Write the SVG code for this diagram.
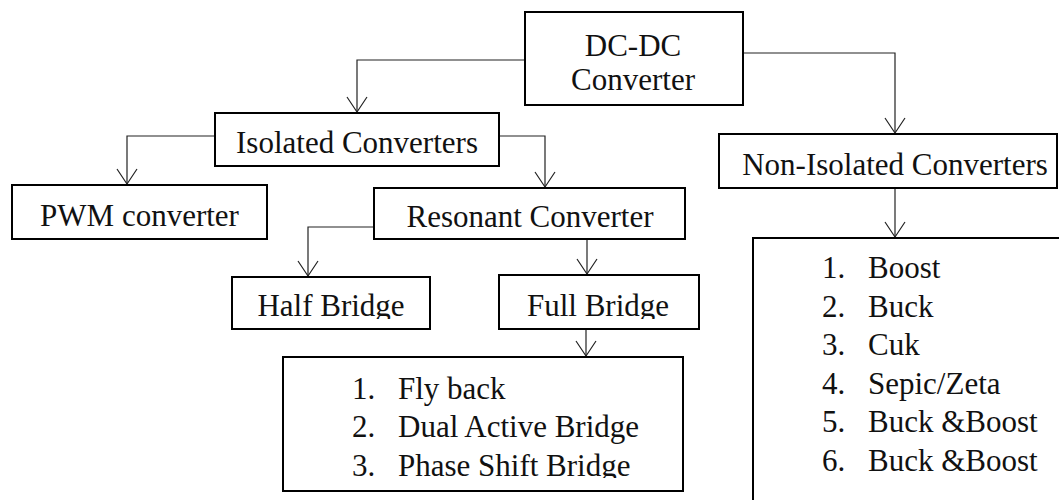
<svg xmlns="http://www.w3.org/2000/svg" width="1059" height="500" viewBox="0 0 1059 500">
<style>
.box{fill:#fff;stroke:#000;stroke-width:2}
.t{font-family:"Liberation Serif","Times New Roman",serif;font-size:31px;fill:#111}
.c{text-anchor:middle}
.conn{fill:none;stroke:#222;stroke-width:1.2}
</style>
<defs>
<marker id="arr" markerUnits="userSpaceOnUse" viewBox="-16 -11 18 22" markerWidth="18" markerHeight="22" refX="0" refY="0" orient="auto" overflow="visible">
<path d="M-15,-10 L0,0 L-15,10" fill="none" stroke="#222" stroke-width="1.2"/>
</marker>
<clipPath id="clipHalf"><rect x="232" y="277" width="198" height="42"/></clipPath>
<clipPath id="clipFull"><rect x="499" y="275" width="200" height="44"/></clipPath>
<clipPath id="clipList1"><rect x="283" y="357" width="400" height="121"/></clipPath>
</defs>
<rect width="1059" height="500" fill="#fff"/>
<g id="connectors">
<path class="conn" d="M525,60 H357 V112" marker-end="url(#arr)"/>
<path class="conn" d="M743,53 H895 V133" marker-end="url(#arr)"/>
<path class="conn" d="M215,136 H127 V184" marker-end="url(#arr)"/>
<path class="conn" d="M499,136 H545 V187" marker-end="url(#arr)"/>
<path class="conn" d="M374,227 H308 V276" marker-end="url(#arr)"/>
<path class="conn" d="M587,239 V274" marker-end="url(#arr)"/>
<path class="conn" d="M586,329 V356" marker-end="url(#arr)"/>
<path class="conn" d="M895,188 V237" marker-end="url(#arr)"/>
</g>
<g id="dcdc">
<rect class="box" x="525" y="12" width="218" height="93"/>
<text class="t c" x="633" y="56">DC-DC</text>
<text class="t c" x="633" y="90">Converter</text>
</g>
<g id="isolated">
<rect class="box" x="215" y="113" width="284" height="53"/>
<text class="t c" x="357" y="153">Isolated Converters</text>
</g>
<g id="nonisolated">
<rect class="box" x="719" y="134" width="338" height="54"/>
<text class="t c" x="895" y="175">Non-Isolated Converters</text>
</g>
<g id="pwm">
<rect class="box" x="12" y="185" width="255" height="54"/>
<text class="t c" x="139.5" y="226">PWM converter</text>
</g>
<g id="resonant">
<rect class="box" x="374" y="188" width="311" height="51"/>
<text class="t c" x="530" y="227">Resonant Converter</text>
</g>
<g id="halfbridge">
<rect class="box" x="232" y="277" width="198" height="52"/>
<text class="t c" x="331" y="316" clip-path="url(#clipHalf)">Half Bridge</text>
</g>
<g id="fullbridge">
<rect class="box" x="499" y="275" width="200" height="54"/>
<text class="t c" x="598" y="316" clip-path="url(#clipFull)">Full Bridge</text>
</g>
<g id="isolated-list">
<rect class="box" x="283" y="357" width="400" height="134"/>
<g class="t" clip-path="url(#clipList1)">
<text x="352" y="399">1.</text><text x="398" y="399">Fly back</text>
<text x="352" y="437">2.</text><text x="398" y="437">Dual Active Bridge</text>
<text x="352" y="476">3.</text><text x="398" y="476">Phase Shift Bridge</text>
</g>
</g>
<g id="nonisolated-list">
<rect class="box" x="753" y="238" width="400" height="400"/>
<g class="t">
<text x="822" y="278">1.</text><text x="868" y="278">Boost</text>
<text x="822" y="316.5">2.</text><text x="868" y="316.5">Buck</text>
<text x="822" y="355">3.</text><text x="868" y="355">Cuk</text>
<text x="822" y="393.5">4.</text><text x="868" y="393.5">Sepic/Zeta</text>
<text x="822" y="432">5.</text><text x="868" y="432">Buck &amp;Boost</text>
<text x="822" y="470.5">6.</text><text x="868" y="470.5">Buck &amp;Boost</text>
</g>
</g>
</svg>
